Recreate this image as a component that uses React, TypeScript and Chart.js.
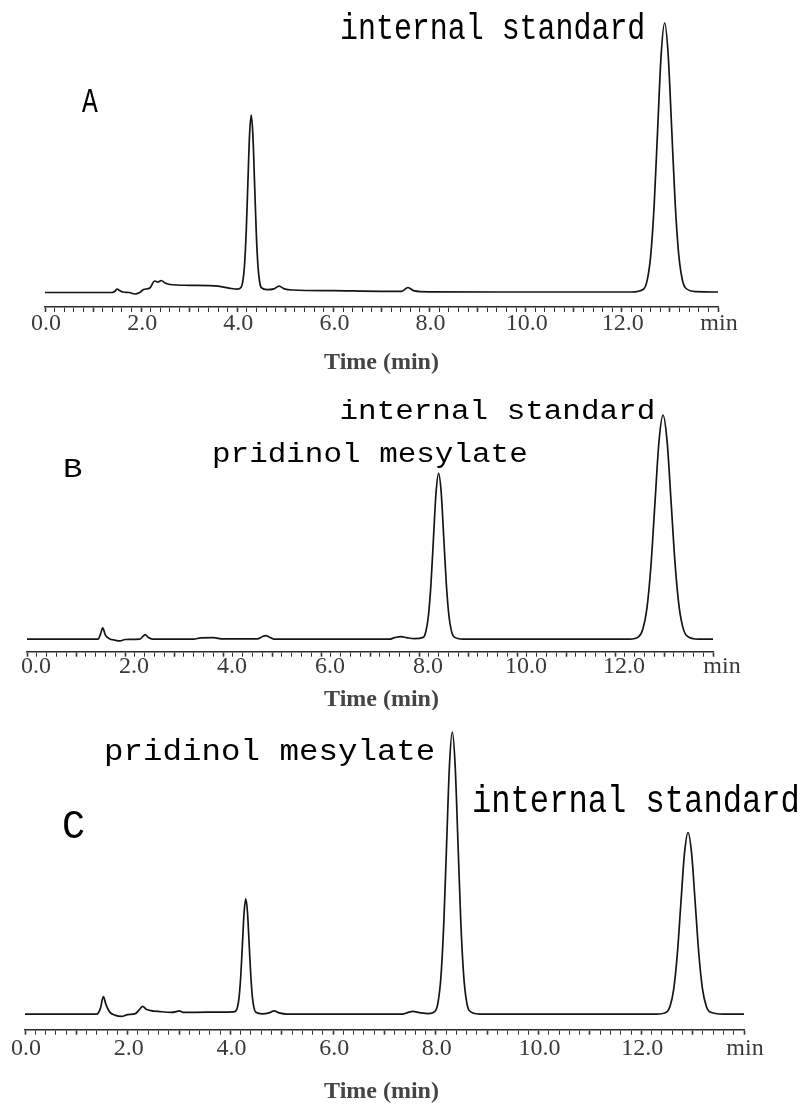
import React, { useEffect, useRef } from 'react';
import { Chart, registerables } from 'chart.js';

Chart.register(...registerables);

// ---------- tick labels (minutes) ----------
const MAJOR_TICKS = [0, 2, 4, 6, 8, 10, 12, 14];
const TICK_LABELS = ['0.0', '2.0', '4.0', '6.0', '8.0', '10.0', '12.0', 'min'];

// ---------- Panel A : blank ----------
const timeA = [
  0, 1.40, 1.46, 1.50, 1.55, 1.62, 1.75, 1.87, 1.97, 2.05, 2.18, 2.28, 2.35, 2.42, 2.50, 2.60, 3.00, 3.60, 3.85, 4.00,
  4.08, 4.115, 4.15, 4.185, 4.22, 4.255, 4.29, 4.325, 4.36, 4.395, 4.43, 4.465, 4.50,
  4.62, 4.76, 4.87, 4.98, 5.15, 6.00, 7.00, 7.42, 7.55, 7.68, 8.00, 10.00, 12.20,
  12.455, 12.5275, 12.60, 12.6725, 12.745, 12.8175, 12.89, 12.9625, 13.035, 13.1075, 13.18, 13.2525, 13.325,
  13.55, 14.00,
];
const signalA = [
  0, 0, 1.5, 3.5, 2.0, 0.5, 0, -1.5, 0, 3.0, 4.5, 11.5, 10.5, 12.0, 9.5, 8.0, 7.2, 6.3, 4.2, 3.4,
  5.3, 11.1, 27.0, 60.0, 109.1, 157.2, 177.5, 157.0, 108.7, 59.6, 26.6, 10.7, 4.9,
  2.8, 3.6, 6.3, 3.6, 2.5, 1.8, 1.2, 1.2, 5.0, 1.6, 0.7, 0.5, 0.5,
  3.5, 12.3, 36.9, 87.8, 163.6, 237.9, 269.5, 238.5, 165.5, 90.5, 39.5, 14.0, 4.5,
  0.8, 0.5,
];

// ---------- Panel B : standard ----------
const timeB = [
  0, 1.45, 1.50, 1.545, 1.60, 1.68, 1.80, 1.90, 2.00, 2.30, 2.36, 2.41, 2.47, 2.56, 3.40, 3.55, 3.80, 4.00,
  4.70, 4.80, 4.87, 4.95, 5.05, 7.40, 7.50, 7.63, 7.75, 7.90,
  8.085, 8.1375, 8.19, 8.2425, 8.295, 8.3475, 8.40, 8.4525, 8.505, 8.5575, 8.61, 8.6625, 8.715,
  8.90, 12.30,
  12.485, 12.5675, 12.65, 12.7325, 12.815, 12.8975, 12.98, 13.0625, 13.145, 13.2275, 13.31, 13.3925, 13.475,
  13.70, 14.00,
];
const signalB = [
  0, 0, 5.0, 11.3, 4.0, 0.5, -1.0, -1.7, -0.3, 0, 2.5, 4.6, 2.0, 0, 0, 1.4, 1.5, 0.3,
  0.3, 2.5, 3.6, 2.0, 0, 0, 1.5, 2.6, 1.5, 0.5,
  1.8, 7.2, 22.3, 53.4, 99.8, 145.3, 164.6, 146.0, 101.0, 55.0, 23.5, 8.0, 2.3,
  0, 0,
  2.5, 9.8, 30.1, 72.2, 134.8, 196.2, 222.3, 196.8, 136.0, 74.0, 31.5, 10.5, 3.0,
  0, 0,
];

// ---------- Panel C : sample ----------
const timeC = [
  0, 1.40, 1.47, 1.525, 1.58, 1.65, 1.75, 1.88, 2.00, 2.15, 2.22, 2.29, 2.36, 2.45, 2.63, 2.85, 2.93, 3.00, 3.08, 3.30, 3.80, 4.05,
  4.105, 4.1375, 4.17, 4.2025, 4.235, 4.2675, 4.30, 4.3325, 4.365, 4.3975, 4.43, 4.4625, 4.495,
  4.62, 4.75, 4.85, 4.95, 5.10, 7.35, 7.45, 7.55, 7.68, 7.85,
  7.99, 8.045, 8.10, 8.155, 8.21, 8.265, 8.32, 8.375, 8.43, 8.485, 8.54, 8.595, 8.65,
  8.85, 12.30,
  12.49, 12.56, 12.63, 12.70, 12.77, 12.84, 12.91, 12.98, 13.05, 13.12, 13.19, 13.26, 13.33,
  13.60, 14.00,
];
const signalC = [
  0, 0, 6.0, 17.7, 9.0, 2.0, -1.0, -2.3, -0.5, 0.5, 4.0, 7.7, 5.0, 3.5, 2.5, 1.8, 2.3, 3.3, 1.8, 1.8, 2.0, 2.2,
  3.3, 7.0, 17.6, 39.3, 71.7, 103.5, 116.0, 102.0, 70.2, 37.8, 16.1, 5.5, 1.8,
  0.3, 1.2, 3.3, 1.2, 0, 0, 1.5, 2.7, 1.5, 0.4,
  3.1, 12.5, 38.4, 92.1, 172.1, 250.4, 283.7, 250.8, 173.5, 94.0, 40.0, 13.5, 3.6,
  0, 0,
  2.0, 8.0, 24.7, 59.3, 110.8, 161.2, 182.7, 161.8, 112.0, 61.0, 26.0, 8.8, 2.4,
  0, 0,
];

// ---------- layout (pixels) ----------
const WIDTH = 803;
const TICK_LEN = 5;
const TICK_FONT = 24;

type Label = { text: string; x: number; y: number; size: number; sx: number };
type Panel = {
  time: number[];
  signal: number[];
  top: number;
  height: number;
  left: number;
  right: number;
  areaTop: number;
  bottom: number;
  yMin: number;
  yMax: number;
  tickPad: number;
  labelOffset: number;
  titleY: number;
  labels: Label[];
};

const PANELS: Panel[] = [
  {
    time: timeA, signal: signalA, top: 0, height: 380,
    left: 45, right: 718, areaTop: 10, bottom: 307, yMin: -14.5, yMax: 282.5,
    tickPad: 0, labelOffset: 1, titleY: 369,
    labels: [
      { text: 'A', x: 82, y: 112, size: 35, sx: 0.75 },
      { text: 'internal standard', x: 340, y: 39, size: 36.5, sx: 0.82 },
    ],
  },
  {
    time: timeB, signal: signalB, top: 380, height: 330,
    left: 27, right: 713, areaTop: 10, bottom: 269.7, yMin: -12.4, yMax: 247.3,
    tickPad: -2, labelOffset: 9, titleY: 326,
    labels: [
      { text: 'B', x: 63, y: 97, size: 27, sx: 1.2 },
      { text: 'internal standard', x: 339.5, y: 39, size: 28.4, sx: 1.09 },
      { text: 'pridinol mesylate', x: 212, y: 82, size: 28.4, sx: 1.09 },
    ],
  },
  {
    time: timeC, signal: signalC, top: 710, height: 394,
    left: 25, right: 744, areaTop: 10, bottom: 321.7, yMin: -15.7, yMax: 296,
    tickPad: 2, labelOffset: 1, titleY: 388,
    labels: [
      { text: 'C', x: 62, y: 128, size: 40, sx: 0.96 },
      { text: 'pridinol mesylate', x: 104, y: 50, size: 29, sx: 1.12 },
      { text: 'internal standard', x: 472, y: 101.7, size: 39.2, sx: 0.82 },
    ],
  },
];

function tickLabel(value: number): string {
  const i = MAJOR_TICKS.findIndex((t) => Math.abs(t - value) < 1e-6);
  return i >= 0 ? TICK_LABELS[i] : '';
}

function PanelChart({ panel }: { panel: Panel }) {
  const ref = useRef<HTMLCanvasElement | null>(null);

  useEffect(() => {
    if (!ref.current) return;
    const scaleHeight = TICK_LEN + TICK_FONT + panel.tickPad;
    const textPlugin = {
      id: 'panelText',
      afterDraw(chart: any) {
        const ctx = chart.ctx as CanvasRenderingContext2D;
        ctx.save();
        ctx.fillStyle = '#000';
        ctx.textBaseline = 'alphabetic';
        ctx.textAlign = 'left';
        for (const l of panel.labels) {
          ctx.save();
          ctx.font = `${l.size}px "Liberation Mono"`;
          ctx.translate(l.x, l.y);
          ctx.scale(l.sx, 1);
          ctx.fillText(l.text, 0, 0);
          ctx.restore();
        }
        ctx.font = 'bold 24px "Liberation Serif"';
        ctx.fillStyle = '#444';
        ctx.textAlign = 'center';
        ctx.fillText('Time (min)', 381.5, panel.titleY);
        ctx.restore();
      },
    };

    const chart = new Chart(ref.current, {
      type: 'line',
      data: {
        datasets: [
          {
            data: panel.time.map((t, i) => ({ x: t, y: panel.signal[i] })),
            borderColor: '#151515',
            borderWidth: 1.7,
            pointRadius: 0,
            fill: false,
            cubicInterpolationMode: 'monotone',
          },
        ],
      },
      options: {
        responsive: false,
        animation: false,
        events: [],
        layout: {
          padding: {
            left: panel.left,
            right: WIDTH - panel.right,
            top: panel.areaTop,
            bottom: panel.height - panel.bottom - scaleHeight,
          },
        },
        plugins: {
          legend: { display: false },
          tooltip: { enabled: false },
          title: { display: false },
        },
        scales: {
          x: {
            type: 'linear',
            min: 0,
            max: 14,
            grid: {
              display: true,
              drawOnChartArea: false,
              drawTicks: true,
              tickLength: TICK_LEN,
              tickColor: '#333',
              tickWidth: (c: any) =>
                c.tick && Math.abs(c.tick.value - Math.round(c.tick.value)) < 1e-6 ? 1.6 : 1,
            },
            border: { display: true, color: '#2a2a2a', width: 1.6 },
            ticks: {
              stepSize: 0.2,
              autoSkip: false,
              maxRotation: 0,
              minRotation: 0,
              padding: panel.tickPad,
              labelOffset: panel.labelOffset,
              color: '#3a3a3a',
              font: { family: 'Liberation Serif', size: TICK_FONT, lineHeight: 1 },
              callback: (v: any) => tickLabel(Number(v)),
            },
          },
          y: {
            type: 'linear',
            display: false,
            min: panel.yMin,
            max: panel.yMax,
          },
        },
      },
      plugins: [textPlugin],
    } as any);

    return () => chart.destroy();
  }, [panel]);

  return (
    <canvas
      ref={ref}
      width={WIDTH}
      height={panel.height}
      style={{ position: 'absolute', left: 0, top: panel.top, display: 'block' }}
    />
  );
}

export default function App() {
  return (
    <div
      style={{
        position: 'absolute',
        left: 0,
        top: 0,
        width: WIDTH,
        height: 1104,
        background: '#fff',
        overflow: 'hidden',
      }}
    >
      {PANELS.map((p, i) => (
        <PanelChart key={i} panel={p} />
      ))}
    </div>
  );
}
